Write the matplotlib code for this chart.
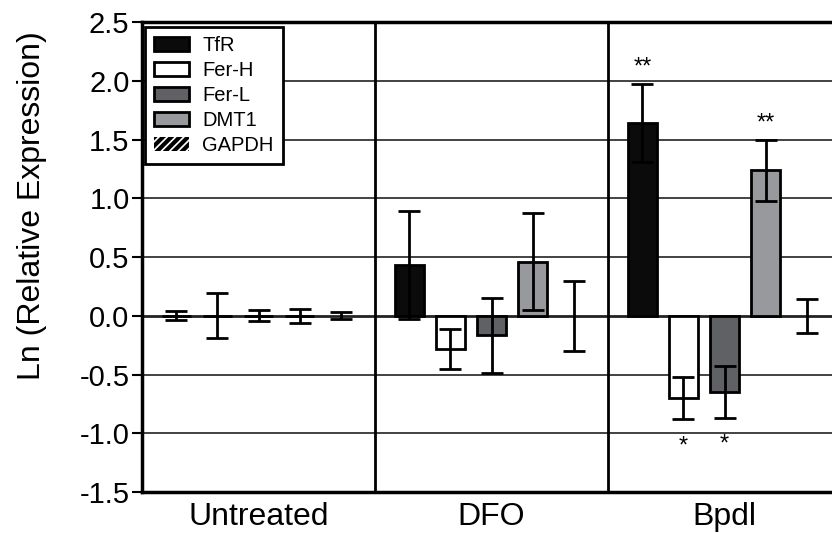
import matplotlib
matplotlib.use("Agg")
import matplotlib.pyplot as plt
import numpy as np

plt.rcParams['font.family'] = ['Liberation Sans', 'DejaVu Sans']
plt.rcParams['hatch.linewidth'] = 3.0

groups = ["Untreated", "DFO", "Bpdl"]
genes = ["TfR", "Fer-H", "Fer-L", "DMT1", "GAPDH"]
colors = ["#0b0b0b", "#ffffff", "#606165", "#98999d", "#ffffff"]

# values per gene across groups
tfr = [0.0, 0.43, 1.64]
ferh = [0.0, -0.28, -0.70]
ferl = [0.0, -0.165, -0.65]
dmt1 = [0.0, 0.46, 1.24]
gapdh = [0.0, 0.0, -0.005]
values = [tfr, ferh, ferl, dmt1, gapdh]

tfr_err = [0.04, 0.46, 0.33]
ferh_err = [0.19, 0.17, 0.18]
ferl_err = [0.045, 0.32, 0.22]
dmt1_err = [0.06, 0.415, 0.26]
gapdh_err = [0.03, 0.30, 0.145]
errors = [tfr_err, ferh_err, ferl_err, dmt1_err, gapdh_err]

tfr_sig = ["", "", "**"]
ferh_sig = ["", "", "*"]
ferl_sig = ["", "", "*"]
dmt1_sig = ["", "", "**"]
gapdh_sig = ["", "", ""]
sigs = [tfr_sig, ferh_sig, ferl_sig, dmt1_sig, gapdh_sig]

yticks = [-1.5, -1.0, -0.5, 0.0, 0.5, 1.0, 1.5, 2.0, 2.5]

fig = plt.figure(figsize=(8.32, 5.33), dpi=100)
ax = fig.add_axes([142/832, 41/533, 1 - 142/832, (492-22)/533])

gw = 1.0
offset0 = 0.148
step = 0.176
bw = 0.124

# grid lines
for yt in yticks:
    if yt in (-1.5, 2.5):
        continue
    ax.axhline(yt, color="#222222", lw=2.0 if yt == 0 else 1.2, zorder=1)

for i, (g, vals, errs, sg) in enumerate(zip(genes, values, errors, sigs)):
    x = np.arange(len(groups)) * gw + offset0 + step * i
    if g == "GAPDH":
        ax.bar(x, vals, width=bw, color=colors[i], edgecolor="black", linewidth=0,
               hatch="////", label=g, zorder=3)
    else:
        ax.bar(x, vals, width=bw, color=colors[i], edgecolor="black", linewidth=2,
               label=g, zorder=3)
    ax.errorbar(x, vals, yerr=errs, fmt="none", ecolor="black", elinewidth=2,
                capsize=8, capthick=2, zorder=4)
    for xi, v, e, s in zip(x, vals, errs, sg):
        if s:
            if v >= 0:
                ax.text(xi, v + e + 0.14, s, ha="center", va="center", fontsize=17)
            else:
                ax.text(xi, v - e - 0.23, s, ha="center", va="center", fontsize=17)

for k in range(1, len(groups)):
    ax.axvline(k * gw, color="black", lw=2, zorder=2)

ax.set_xlim(0, 690/233)
ax.set_ylim(-1.5, 2.5)
ax.set_yticks(yticks)
ax.set_yticklabels([f"{t:.1f}" for t in yticks], fontsize=21)
ax.set_xticks(np.arange(len(groups)) * gw + gw / 2)
ax.set_xticklabels(groups, fontsize=23)
ax.tick_params(axis="x", length=0, pad=7)
ax.tick_params(axis="y", length=7, width=1.5, direction="out", pad=2)
ax.set_ylabel("Ln (Relative Expression)", fontsize=23)
ax.yaxis.set_label_coords(-0.138, 0.61)
ax.spines["right"].set_visible(False)
for s in ("left", "bottom", "top"):
    ax.spines[s].set_linewidth(2.5)

leg = ax.legend(loc="upper left", bbox_to_anchor=(0.004, 0.99), fontsize=14.5,
                frameon=True, fancybox=False, framealpha=1, edgecolor="black",
                handlelength=1.75, handleheight=0.72, labelspacing=0.3,
                borderpad=0.45, handletextpad=0.65, borderaxespad=0)
leg.get_frame().set_linewidth(2)
leg.set_zorder(10)

fig.savefig("out.png", dpi=100)
